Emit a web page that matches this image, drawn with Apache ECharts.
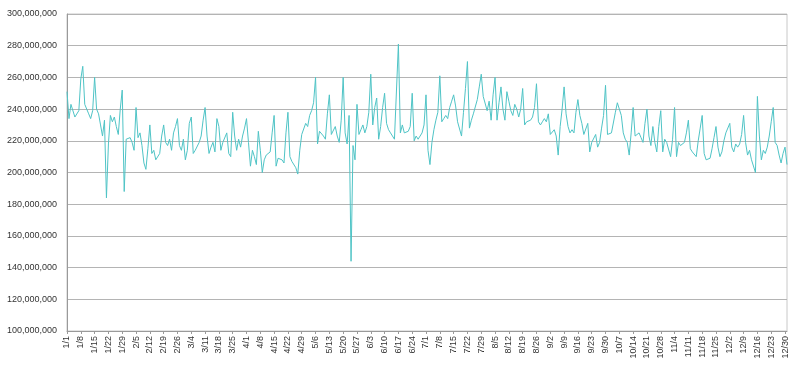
<!DOCTYPE html>
<html>
<head>
<meta charset="utf-8">
<script src="https://cdn.jsdelivr.net/npm/echarts@6/dist/echarts.min.js"></script>
<style>
html,body{margin:0;padding:0;background:#fff;}
#chart{width:800px;height:370px;}
</style>
</head>
<body>
<div id="chart"></div>
<script>
// Daily values in millions, 1/1 .. 12/31 (leap year, 366 days)
const valuesJanFeb = [251,234,243,242,235,236,239,259,267,243,240,237,234,239,260,240,237,230,223,233,184,218,236,232,235,229,224,240,252,188,221,222,222,219,214,241,222,
225,217,206,202,215,230,212,214,208,207,212,223,230,219,217,221,214,225,229,234,217,214,221,208,214,231,235];
const valuesMarApr = [212,214,215,219,223,233,241,223,212,216,219,213,234,229,214,219,218,225,212,210,238,223,214,221,216,223,228,234,219,204,214,210,205,226,214,
200,208,211,211,213,225,236,204,209,209,208,206,225,238,210,207,208,203,199,214,224,225,231,229,236,239,244,260,218,226,226,223,221,237,249];
const valuesMayJun = [224,223,229,223,219,233,260,225,218,236,144,217,208,243,224,227,230,225,229,238,262,230,241,247,221,229,241,250,231,227,225,223,221,222,281,
225,230,225,225,226,229,250,220,223,221,223,225,230,249,214,205,219,227,233,238,261,232,234,236,234,241,245,249,242,232,232,223,238,253,270];
const valuesJulSep = [228,233,237,236,246,254,262,248,249,239,245,233,249,260,233,244,254,240,233,251,245,239,236,243,240,235,240,253,230,232,231,233,235,241,256,
232,230,232,234,232,237,224,223,227,223,211,229,240,254,237,229,225,227,225,238,246,236,231,224,225,231,213,219,218,224,216,219,228,236,255];
const valuesOctDec = [224,223,225,224,238,244,244,236,225,221,219,211,225,241,223,224,225,222,219,231,240,223,217,229,219,213,229,239,213,221,219,220,210,221,241,
210,219,217,217,219,225,233,215,213,212,210,220,228,236,212,208,207,209,215,222,229,216,210,213,220,225,226,231,216,213,218,216,218,224,
236,219,211,214,208,208,200,248,223,208,214,212,216,223,232,241,219,217,211,206,212,216,205];
const monthLengths = [31,29,31,30,31,30,31,31,30,31,30,31];
const yMin = 100000000, yMax = 300000000, yStep = 20000000;

const categories = [];
monthLengths.forEach((n, m) => { for (let d = 1; d <= n; d++) categories.push((m + 1) + '/' + d); });
const valuesM = [].concat(valuesJanFeb, valuesMarApr, valuesMayJun, valuesJulSep, valuesOctDec);
const seriesData = valuesM.map(v => v * 1000000);

const chart = echarts.init(document.getElementById('chart'), null, {renderer: 'canvas'});
chart.setOption({
  animation: false,
  backgroundColor: '#ffffff',
  grid: {left: 67, right: 13, top: 14, bottom: 39, show: true, borderColor: '#c8c8c8', borderWidth: 1},
  xAxis: {
    type: 'category',
    data: categories,
    boundaryGap: false,
    axisLine: {lineStyle: {color: '#9a9a9a', width: 1}},
    axisTick: {show: true, interval: 6, length: 3, lineStyle: {color: '#9a9a9a'}},
    axisLabel: {interval: 6, rotate: 90, fontSize: 9, color: '#333', fontFamily: 'Liberation Sans, Arial, sans-serif', margin: 5},
    splitLine: {show: false}
  },
  yAxis: {
    type: 'value',
    min: yMin, max: yMax, interval: yStep,
    axisLine: {show: true, lineStyle: {color: '#9a9a9a'}},
    axisTick: {show: false},
    axisLabel: {fontSize: 9, color: '#333', fontFamily: 'Liberation Sans, Arial, sans-serif', margin: 10,
      formatter: v => v.toLocaleString('en-US')},
    splitLine: {show: true, lineStyle: {color: '#b4b4b4', width: 1}}
  },
  series: [{
    type: 'line',
    data: seriesData,
    symbol: 'none',
    lineStyle: {color: '#4fc4c6', width: 1},
    itemStyle: {color: '#4fc4c6'}
  }]
});
</script>
</body>
</html>
